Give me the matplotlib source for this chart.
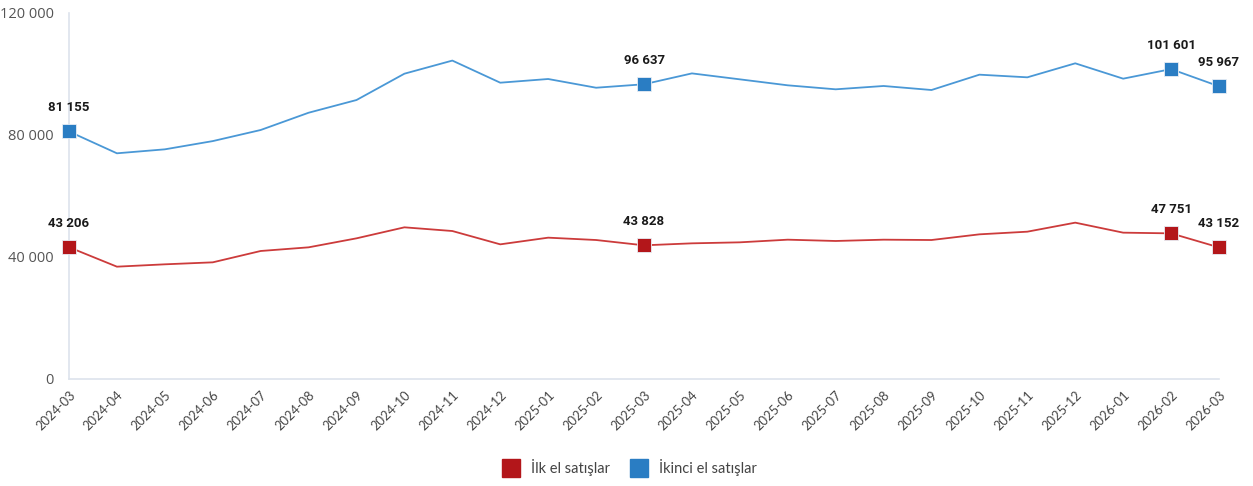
import matplotlib
matplotlib.use("Agg")
import matplotlib.pyplot as plt
from matplotlib.lines import Line2D

months = ["2024-03", "2024-04", "2024-05", "2024-06", "2024-07", "2024-08", "2024-09",
          "2024-10", "2024-11", "2024-12", "2025-01", "2025-02", "2025-03", "2025-04",
          "2025-05", "2025-06", "2025-07", "2025-08", "2025-09", "2025-10", "2025-11",
          "2025-12", "2026-01", "2026-02", "2026-03"]

ilk_el = [43206, 36830, 37600, 38250, 41970, 43170, 46120, 49730, 48520, 44150,
          46340, 45570, 43828, 44480, 44810, 45680, 45250, 45680, 45570, 47430,
          48300, 51260, 47980, 47751, 43152]

ikinci_el = [81155, 74000, 75300, 78000, 81640, 87300, 91470, 100100, 104400, 97150,
             98360, 95500, 96637, 100200, 98250, 96290, 94980, 96070, 94750, 99780,
             98910, 103500, 98470, 101601, 95967]

highlight_idx = [0, 12, 23, 24]
series_names = ["İlk el satışlar", "İkinci el satışlar"]
y_ticks = [0, 40000, 80000, 120000]

red_line, red_mark = "#cc3b3b", "#b3161a"
blue_line, blue_mark = "#4a98d6", "#2a7dc3"

fig = plt.figure(figsize=(12.53, 4.86), dpi=100)
ax = fig.add_axes([69 / 1253, 1 - 379 / 486, (1219 - 69) / 1253, (379 - 13) / 486])

x = list(range(len(months)))
for vals, lc, mc in [(ilk_el, red_line, red_mark), (ikinci_el, blue_line, blue_mark)]:
    ax.plot(x, vals, color=lc, lw=1.3, zorder=2, clip_on=False)
    hx = [x[i] for i in highlight_idx]
    hy = [vals[i] for i in highlight_idx]
    ax.plot(hx, hy, ls="none", marker="s", markersize=10, color=mc,
            markeredgecolor="#e8eef5", markeredgewidth=0.6, zorder=3, clip_on=False)
    for i in highlight_idx:
        label = f"{vals[i]:,}".replace(",", " ")
        ax.annotate(label, (x[i], vals[i]), xytext=(0, 12.5), textcoords="offset points",
                    ha="center", va="bottom", fontsize=9.5, fontweight="bold",
                    color="#1a1a1a", family=["Roboto", "DejaVu Sans"])

ax.set_xlim(0, len(months) - 1)
ax.set_ylim(0, 120000)
ax.set_yticks(y_ticks)
ax.set_yticklabels([f"{v:,}".replace(",", " ") for v in y_ticks],
                   fontsize=10.5, color="#555555", family=["Open Sans", "DejaVu Sans"])
ax.set_xticks(x)
ax.set_xticklabels(months, rotation=45, ha="right", rotation_mode="anchor",
                   fontsize=9.3, color="#444444", family=["Lato", "DejaVu Sans"])
ax.tick_params(axis="both", length=0)
ax.tick_params(axis="x", pad=7)
ax.tick_params(axis="y", pad=11)

for s in ["top", "right"]:
    ax.spines[s].set_visible(False)
for s in ["left", "bottom"]:
    ax.spines[s].set_color("#dde3ec")
    ax.spines[s].set_linewidth(1.2)

handles = [Line2D([], [], ls="none", marker="s", markersize=12.5, color=red_mark),
           Line2D([], [], ls="none", marker="s", markersize=12.5, color=blue_mark)]
fig.legend(handles, series_names, loc="center", bbox_to_anchor=(0.5, 1 - 468 / 486),
           ncol=2, frameon=False, handletextpad=0.35, columnspacing=1.0,
           prop={"family": ["Lato", "DejaVu Sans"], "size": 10.5},
           labelcolor="#444444")

fig.savefig("out.png", dpi=100)
